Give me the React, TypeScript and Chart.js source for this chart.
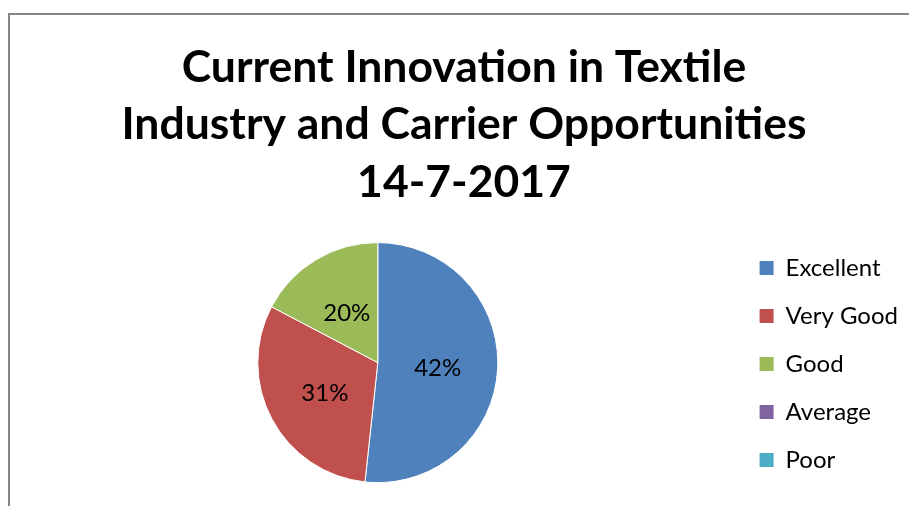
import React, { useEffect, useRef } from 'react';
import { Chart, registerables, DoughnutController } from 'chart.js';

Chart.register(...registerables);

const titleLines = ['Current Innovation in Textile', 'Industry and Carrier Opportunities', '14-7-2017'];
const categories = ['Excellent', 'Very Good', 'Good', 'Average', 'Poor'];
// slice sizes as drawn in the reference (percent of the circle)
const sliceValues = [51.7, 31.0, 17.3, 0, 0];
// data label texts as printed on the slices
const sliceLabels = ['42%', '31%', '20%', '', ''];
const sliceColors = ['#4F81BD', '#C0504D', '#9BBB59', '#8064A2', '#4BACC6'];

const sliceLabelPlugin = {
  id: 'sliceLabels',
  afterDatasetsDraw(chart: any) {
    const { ctx } = chart;
    const meta = chart.getDatasetMeta(0);
    ctx.save();
    ctx.font = '24px Lato';
    ctx.fillStyle = '#000000';
    ctx.textAlign = 'center';
    ctx.textBaseline = 'middle';
    meta.data.forEach((arc: any, i: number) => {
      const text = sliceLabels[i];
      if (!text) return;
      const p = arc.tooltipPosition(false);
      ctx.fillText(text, p.x, p.y + 2);
    });
    ctx.restore();
  },
};

export default function App() {
  const canvasRef = useRef<HTMLCanvasElement | null>(null);

  useEffect(() => {
    const canvas = canvasRef.current;
    if (!canvas) return;
    const baseGen = (DoughnutController as any).overrides.plugins.legend.labels.generateLabels;
    const chart = new Chart(canvas, {
      type: 'pie',
      data: {
        labels: categories,
        datasets: [
          {
            data: sliceValues,
            backgroundColor: sliceColors,
            borderColor: '#ffffff',
            borderWidth: 1,
          },
        ],
      },
      options: {
        responsive: false,
        animation: false,
        events: [],
        radius: 120,
        layout: { padding: { left: 10, right: 1, top: 0, bottom: 10 } },
        plugins: {
          tooltip: { enabled: false },
          title: {
            display: true,
            text: titleLines,
            color: '#000000',
            font: { family: 'Lato', size: 44.5, weight: 'bold', lineHeight: 1.29 },
            padding: { top: 24, bottom: 18 },
          },
          legend: {
            display: true,
            position: 'right',
            align: 'end',
            labels: {
              color: '#000000',
              font: { family: 'Lato', size: 24 },
              boxWidth: 14,
              boxHeight: 14,
              padding: 24,
              generateLabels: (c: any) =>
                baseGen(c).map((l: any) => ({ ...l, lineWidth: 0, strokeStyle: 'rgba(0,0,0,0)' })),
            },
          },
        },
      } as any,
      plugins: [sliceLabelPlugin],
    });
    return () => chart.destroy();
  }, []);

  return (
    <div style={{ position: 'fixed', left: 0, top: 0, width: 909, height: 506, overflow: 'hidden', background: '#ffffff' }}>
      <div
        style={{
          position: 'absolute',
          left: 8,
          top: 13,
          width: 960,
          height: 560,
          borderTop: '2px solid #868686',
          borderLeft: '2px solid #868686',
          boxSizing: 'border-box',
        }}
      >
        <canvas ref={canvasRef} width={899} height={491} style={{ position: 'absolute', left: 0, top: 0, width: 899, height: 491 }} />
      </div>
    </div>
  );
}
